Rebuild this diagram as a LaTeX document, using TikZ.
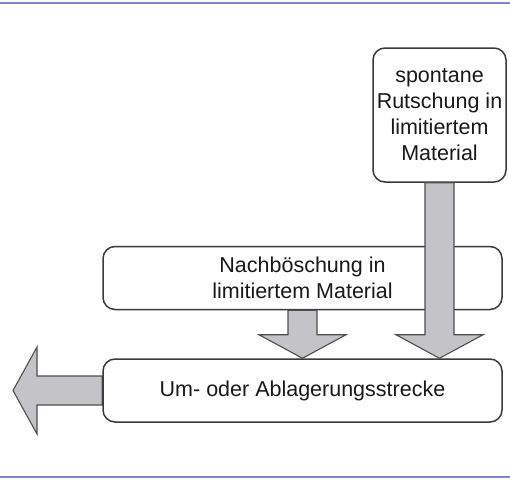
\documentclass[tikz,border=0pt]{standalone}
\usepackage{fontspec}
\setmainfont{Liberation Sans}
\usetikzlibrary{calc,backgrounds}
\definecolor{cF}{RGB}{125,135,200}
\definecolor{cB}{HTML}{3A3A3A}
\definecolor{cR}{HTML}{C4C4C8}
% block arrow straight down from the south side of #1 to the north side of #2
\newcommand\downblock[2]{%
  \draw[blockarrow] let \p1=(#1.south), \p2=(#2.north) in
    (\x1-14.5pt,\y1) -- (\x1-14.5pt,\y2+23.5pt) -- (\x1-43.5pt,\y2+23.5pt) -- (\x1,\y2)
    -- (\x1+43.5pt,\y2+23.5pt) -- (\x1+14.5pt,\y2+23.5pt) -- (\x1+14.5pt,\y1) -- cycle;}
% block arrow to the left from the west side of #1 to the point #2
\newcommand\leftblock[2]{%
  \draw[blockarrow] let \p1=(#1.west), \p2=(#2) in
    (\x1,\y1+14.5pt) -- (\x2+24pt,\y1+14.5pt) -- (\x2+24pt,\y1+43.5pt) -- (\x2,\y1)
    -- (\x2+24pt,\y1-43.5pt) -- (\x2+24pt,\y1-14.5pt) -- (\x1,\y1-14.5pt) -- cycle;}

\begin{document}
\begin{tikzpicture}[x=1pt,y=-1pt,font=\fontsize{21.5}{26}\selectfont,
  box/.style={draw=cB,line width=1.5pt,rounded corners=12pt,fill=white,align=center,inner sep=0pt,text=black!90},
  blockarrow/.style={draw=cB!90,fill=cR,line width=1.1pt,line join=miter}]
\useasboundingbox (0,0) rectangle (510,479);
% --- frame lines ---
\draw[cF,line width=2.5pt] (0,3) -- (510,3);
\draw[cF,line width=2.5pt] (0,477) -- (510,477);
% --- boxes ---
\node[box,minimum width=133pt,minimum height=134pt] (spont) at (439.5,115) {spontane\\Rutschung in\\limitiertem\\Material};
\node[box,minimum width=399pt,minimum height=63pt] (nachb) at (302.5,278) {Nachböschung in\\limitiertem Material};
\node[box,minimum width=399pt,minimum height=63pt] (strecke) at (302.5,390.5) {Um- oder Ablagerungsstrecke};
\coordinate (out) at (13,390.5);
% --- block arrows ---
\downblock{nachb}{strecke}
\downblock{spont}{strecke}
\begin{scope}[on background layer]
\leftblock{strecke}{out}
\end{scope}
\end{tikzpicture}
\end{document}
